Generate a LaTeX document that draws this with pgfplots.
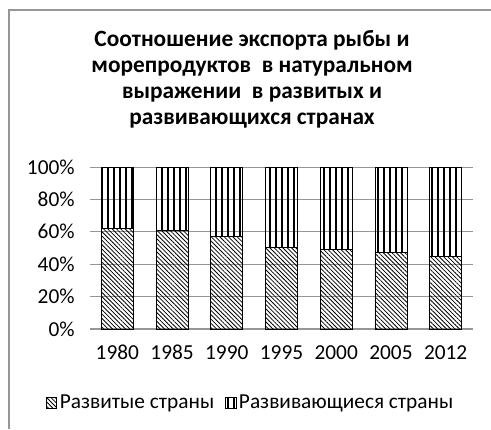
\documentclass[border=0pt]{standalone}
\usepackage{pgfplots}
\pgfplotsset{compat=1.18}
\usepackage{fontspec}
\setmainfont{Carlito}
\usetikzlibrary{patterns.meta}
\definecolor{gridc}{RGB}{150,150,150}
\begin{document}
\begin{tikzpicture}
\useasboundingbox (0,0) rectangle (368.25pt,321.75pt);
\draw[gridc,line width=0.8pt] (6.75pt,0pt) -- (6.75pt,314.25pt) -- (368.25pt,314.25pt);
\node[font=\bfseries\fontsize{17.5}{19.5}\selectfont, align=center] at (189pt,262.5pt)
  {Соотношение экспорта рыбы и\\морепродуктов \ в натуральном\\выражении \ в развитых и\\развивающихся странах};
\begin{axis}[
  at={(67.5pt,75pt)}, anchor=south west,
  width=287.25pt, height=121.5pt, scale only axis,
  ybar stacked, bar width=24pt,
  xmin=-0.5, xmax=6.5, ymin=0, ymax=100,
  xtick={0,...,6}, xticklabels={1980,1985,1990,1995,2000,2005,2012},
  ytick={0,20,40,60,80,100},
  yticklabel={\pgfmathprintnumber{\tick}\%},
  /pgf/number format/assume math mode=true,
  tick label style={font=\fontsize{16}{18}\selectfont},
  ymajorgrids, grid style={gridc, line width=0.7pt},
  axis x line*=bottom, axis y line*=left,
  x axis line style={gridc, line width=0.8pt},
  y axis line style={draw=none},
  xtick style={draw=none}, ytick style={draw=none},
  typeset ticklabels with strut,
  xticklabel style={anchor=north, yshift=-7pt},
  yticklabel style={anchor=east, xshift=-8pt},
  legend style={at={(0.42,-0.457)}, anchor=center, legend columns=2, draw=none,
    font=\fontsize{16}{18}\selectfont,
    /tikz/every even column/.append style={column sep=6pt}},
  legend image code/.code={\draw[#1] (0pt,-4pt) rectangle (8pt,4pt);},
]
\addplot[draw=black, line width=0.6pt, pattern={Lines[angle=-45,distance=2.3pt,line width=0.6pt]}]
  coordinates {(0,61.9) (1,60.9) (2,57.2) (3,50.4) (4,49.2) (5,47.3) (6,44.6)};
\addplot[draw=black, line width=0.6pt, pattern={Lines[angle=90,distance=4.5pt,line width=0.8pt]}]
  coordinates {(0,38.1) (1,39.1) (2,42.8) (3,49.6) (4,50.8) (5,52.7) (6,55.4)};
\legend{Развитые страны, Развивающиеся страны}
\end{axis}
\end{tikzpicture}
\end{document}
